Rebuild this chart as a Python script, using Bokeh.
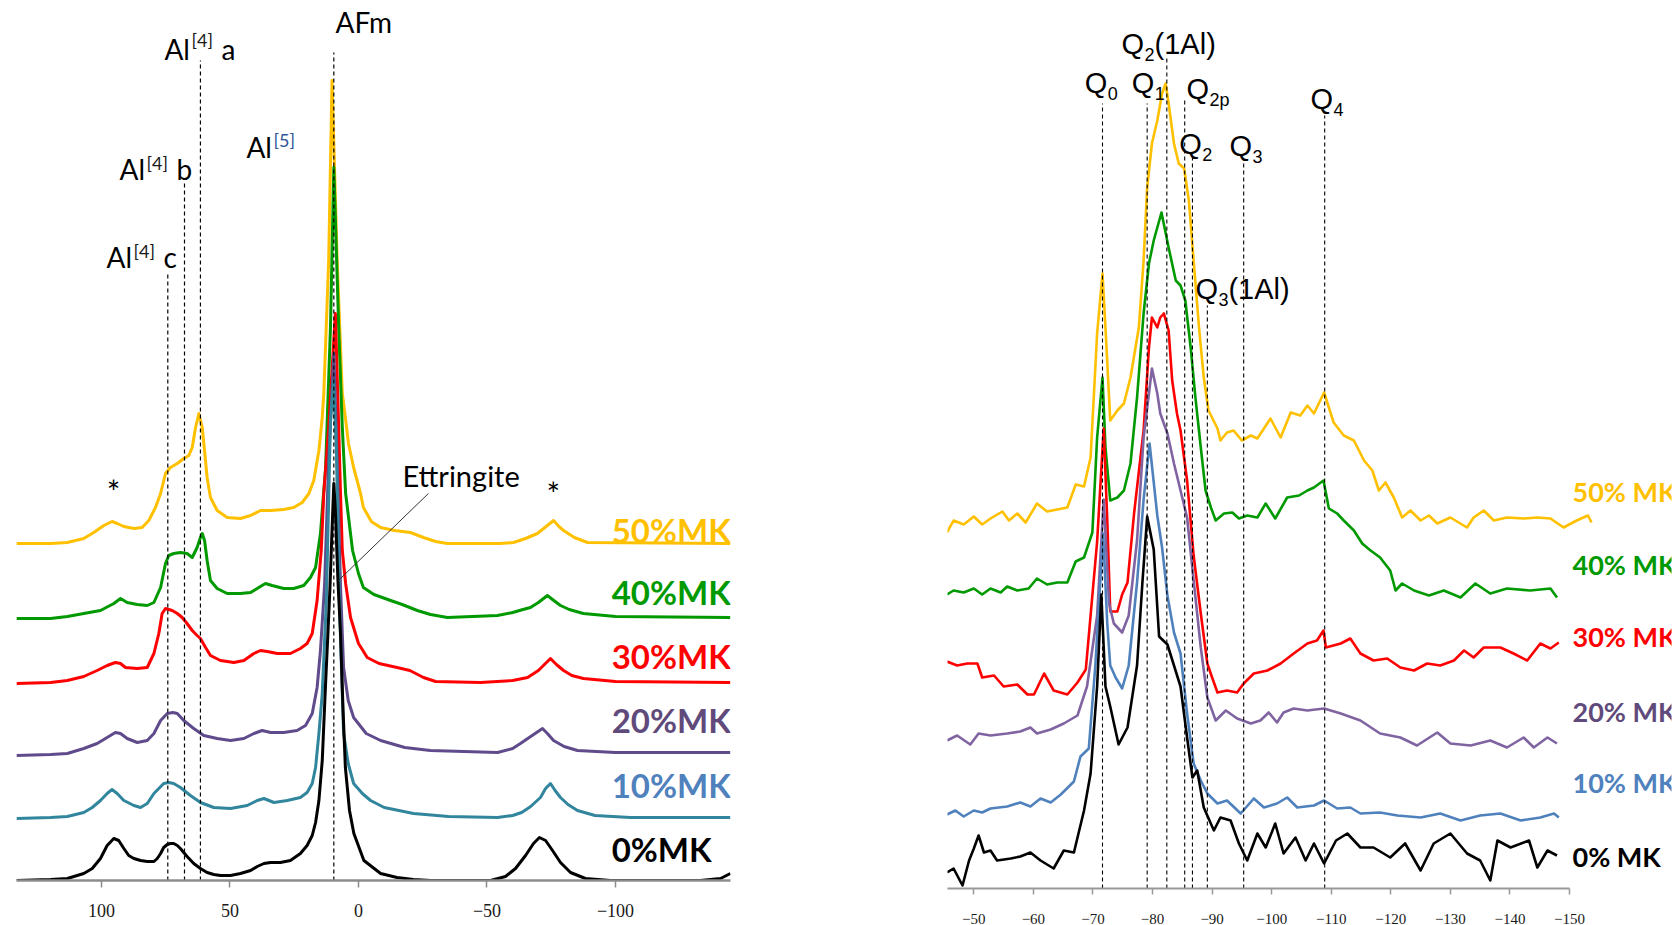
from bokeh.plotting import figure
from bokeh.models import Range1d, FixedTicker, Label
from bokeh.layouts import row
from bokeh.embed import file_html
from bokeh.resources import INLINE

# ---------------- Left panel: 27Al NMR (ppm, relative intensity above each baseline) -------------
al_samples = ["0%MK", "10%MK", "20%MK", "30%MK", "40%MK", "50%MK"]
al_offsets = [0, 62, 125, 197, 262, 337]
al_label_y = [18, 82, 147, 211, 275, 337]
al_colors = ["#000000", "#31859C", "#5F4B8B", "#FF0000", "#009900", "#FFC000"]
al_label_colors = ["#000000", "#4F81BD", "#604A7B", "#FF0000", "#009900", "#FFC000"]
al_ticks = [100, 50, 0, -50, -100]

al_0 = [(133.1, 0), (119.8, 1), (113.3, 2), (106.9, 7), (103.6, 12), (100.4, 22), (97.8, 35), (95.2, 42),
        (93.3, 40), (91.3, 32), (89.4, 25), (87.4, 22), (84.8, 20), (82.2, 19), (79.6, 19), (78.3, 22),
        (77.0, 27), (75.8, 33), (74.4, 36), (73.2, 37), (71.9, 37), (70.5, 35), (69.3, 32), (68.0, 28),
        (66.7, 24), (64.1, 17), (61.5, 12), (58.9, 8), (56.3, 6), (53.7, 5), (49.8, 5), (45.9, 7), (42.0, 10),
        (39.4, 14), (36.8, 17), (34.2, 18), (30.4, 18), (26.5, 20), (22.6, 27), (20.0, 35), (18.0, 45),
        (16.7, 58), (15.4, 80), (14.1, 120), (12.8, 197), (11.9, 247), (11.1, 293), (10.3, 350), (9.6, 397),
        (9.0, 370), (8.0, 300), (7.0, 247), (6.0, 170), (5.1, 113), (3.5, 70), (1.8, 47), (-2.1, 20),
        (-8.6, 7), (-15, 3), (-21.4, 1), (-28, 0), (-51.4, 0), (-57.2, 4), (-61.1, 12), (-65, 25), (-68.1, 37),
        (-70.4, 43), (-72.8, 40), (-75.5, 30), (-78.6, 18), (-82.5, 8), (-88.3, 2), (-98, 0), (-133, 0),
        (-140.9, 2), (-144.7, 7)]
al_10 = [(133.1, 0), (119.8, 1), (113.3, 2), (106.9, 6), (103.6, 11), (100.4, 18), (97.8, 25), (95.9, 29),
         (93.9, 25), (91.3, 18), (87.4, 13), (84.8, 11), (82.2, 15), (79.6, 25), (75.8, 35), (73.8, 36),
         (71.9, 35), (69.3, 31), (65.4, 23), (61.5, 16), (56.3, 11), (49.8, 10), (43.3, 13), (39.4, 18),
         (36.8, 20), (32.9, 16), (27.7, 18), (22.6, 21), (20.0, 26), (18.0, 35), (16.7, 51), (15.4, 85),
         (14.1, 125), (12.5, 218), (10.9, 398), (9.7, 438), (8.6, 368), (7.4, 218), (6.5, 140), (5.8, 85),
         (4.0, 55), (1.9, 35), (-1.5, 25), (-4.7, 18), (-10, 11), (-21.4, 5), (-35, 2), (-54.1, 1), (-60, 3),
         (-63.5, 6), (-67, 12), (-70.8, 21), (-72.8, 30), (-74.7, 35), (-76.5, 28), (-78.6, 21), (-81.5, 14),
         (-85.2, 8), (-92, 3), (-105.8, 1), (-144.7, 1)]
al_20 = [(133.1, 0), (119.8, 1), (113.3, 2), (106.9, 7), (101.7, 12), (97.8, 18), (94.6, 23), (92.6, 22),
         (90.0, 17), (86.1, 13), (82.2, 15), (79.6, 22), (77.0, 35), (74.4, 42), (72.2, 43), (70.5, 42),
         (68.0, 35), (64.1, 27), (60.2, 20), (55.0, 17), (49.8, 15), (44.6, 17), (40.7, 22), (37.5, 25),
         (34.2, 23), (29.1, 23), (23.9, 25), (20.6, 30), (18.0, 42), (16.1, 68), (14.8, 105), (13.2, 170),
         (11.6, 295), (9.6, 402), (8.3, 295), (7.0, 170), (5.8, 88), (4.0, 55), (1.9, 38), (-3, 22),
         (-8.6, 15), (-18, 8), (-28, 5), (-54.1, 3), (-60, 7), (-63, 12), (-67, 19), (-71.6, 27), (-73.5, 22),
         (-75.9, 15), (-80, 9), (-85.2, 5), (-100, 3), (-144.7, 3)]
al_30 = [(133.1, 0), (119.8, 1), (113.3, 3), (106.9, 7), (101.7, 13), (97.8, 18), (94.6, 21), (92.6, 20),
         (90.7, 16), (86.1, 15), (82.2, 16), (79.6, 30), (77.7, 50), (76.4, 70), (75.1, 75), (72.5, 73),
         (70.5, 70), (68.6, 66), (66.7, 60), (64.7, 53), (62.8, 48), (61.5, 45), (59.5, 36), (57.6, 28),
         (53.7, 23), (48.5, 21), (44.6, 23), (40.7, 30), (38.1, 33), (35.5, 32), (31.6, 30), (26.5, 30),
         (22.6, 35), (20.0, 40), (18.0, 50), (16.1, 83), (14.5, 133), (13.5, 190), (11.6, 256), (9.0, 370),
         (7.7, 256), (7.0, 190), (6.3, 133), (5.0, 100), (3.1, 66), (0, 40), (-3.4, 26), (-8, 20), (-15, 16),
         (-20, 13), (-25.3, 6), (-30, 2), (-47.5, 1), (-60, 3), (-65.8, 6), (-70, 13), (-74.7, 25), (-77, 19),
         (-79.8, 13), (-83, 8), (-87.5, 5), (-100, 2), (-144.7, 1)]
al_40 = [(133.1, 0), (119.8, 0), (113.3, 2), (106.9, 5), (100.4, 8), (95.2, 15), (92.6, 20), (90.0, 16),
         (86.1, 14), (82.2, 13), (79.6, 16), (77.0, 31), (75.1, 55), (73.8, 63), (71.9, 65), (69.3, 66),
         (66.7, 65), (64.7, 61), (62.8, 71), (61.5, 81), (60.8, 85), (59.9, 78), (58.9, 58), (57.6, 38),
         (55.0, 30), (51.1, 25), (45.9, 25), (42.0, 26), (38.8, 31), (36.2, 35), (33.6, 33), (29.1, 30),
         (25.2, 30), (21.3, 33), (18.7, 41), (16.7, 51), (14.8, 85), (12.8, 151), (10.9, 291), (9.6, 451),
         (7.7, 291), (6.3, 191), (5.0, 125), (2.3, 68), (0, 45), (-1.9, 31), (-6, 24), (-12.5, 18), (-17, 14),
         (-22.9, 8), (-28, 4), (-34.6, 1), (-54.1, 3), (-60, 6), (-64, 9), (-66.9, 11), (-70, 16), (-73.5, 23),
         (-76, 18), (-78.6, 13), (-82, 9), (-87.5, 5), (-100, 2), (-144.7, 1)]
al_50 = [(133.1, 0), (119.8, 0), (113.3, 1), (106.9, 5), (103.0, 11), (99.1, 18), (95.9, 22), (93.9, 20),
         (91.3, 17), (87.4, 15), (84.2, 16), (81.6, 23), (79.0, 36), (77.0, 50), (75.1, 70), (73.2, 76),
         (70.5, 80), (68.0, 85), (66.0, 88), (64.7, 96), (63.4, 116), (62.1, 130), (60.8, 116), (59.9, 93),
         (58.9, 66), (57.6, 46), (55.0, 33), (51.1, 26), (45.9, 25), (42.0, 28), (38.1, 33), (34.2, 33),
         (29.1, 34), (25.2, 36), (21.9, 41), (19.3, 50), (17.4, 63), (15.4, 93), (14.1, 126), (13.5, 150),
         (11.6, 283), (10.3, 463), (8.3, 283), (6.3, 150), (5.1, 126), (3.9, 100), (1.9, 76), (-0.8, 50),
         (-1.9, 36), (-5, 22), (-8.6, 16), (-14, 13), (-20.2, 11), (-25.3, 6), (-30, 2), (-34.6, 0), (-55, 0),
         (-60.3, 1), (-65, 5), (-69.6, 10), (-73, 17), (-75.9, 23), (-78, 17), (-79.8, 13), (-84, 6),
         (-89.1, 1), (-144.7, 0)]
al_traces = [al_0, al_10, al_20, al_30, al_40, al_50]

# reference lines (ppm) and their tops
al_marks_ppm = [74.2, 67.7, 61.5, 9.6]
al_marks_top = [608, 698, 820, 828]
# annotation: (ppm, baseline, main, superscript, sup-baseline, suffix, sup colour)
al_notes = [(75.5, 820, "Al", "[4]", 833, "a", "#1a1a1a"),
            (93.0, 700, "Al", "[4]", 710, "b", "#1a1a1a"),
            (98.05, 612, "Al", "[4]", 622, "c", "#1a1a1a"),
            (43.6, 722, "Al", "[5]", 733, "", "#2E5597")]
al_stars = [(95.3, 376), (-75.8, 374)]

# ---------------- Right panel: 29Si NMR -------------
si_samples = ["0% MK", "10% MK", "20% MK", "30% MK", "40% MK", "50% MK"]
si_offsets = [38, 73, 148, 223, 294, 360]
si_label_y = [21, 95, 166, 241, 313, 386]
si_colors = ["#000000", "#4F81BD", "#8064A2", "#FF0000", "#009900", "#FFC000"]
si_label_colors = ["#000000", "#4F81BD", "#604A7B", "#FF0000", "#009900", "#FFC000"]
si_ticks = [-50, -60, -70, -80, -90, -100, -110, -120, -130, -140, -150]

si_0 = [(-45.5, -22), (-46.6, -18), (-48.1, -35), (-49.2, -10), (-50, 2), (-50.8, 15), (-51.7, -2), (-52.8, 0),
        (-53.9, -10), (-56.2, -8), (-57.8, -6), (-59.5, -2), (-61.2, -10), (-63.4, -18), (-65.1, 0),
        (-66.8, -2), (-68.5, 40), (-69.6, 77), (-70.7, 164), (-71.4, 256), (-72.1, 164), (-72.9, 144),
        (-74.3, 106), (-75.8, 123), (-77.4, 185), (-78.3, 268), (-79.1, 334), (-80.2, 301), (-81.1, 214),
        (-82.5, 206), (-83.6, 185), (-84.7, 164), (-85.8, 113), (-86.7, 73), (-87.5, 80), (-88.6, 43),
        (-90.3, 20), (-91.4, 33), (-93.1, 30), (-94.5, 7), (-95.9, -10), (-97.6, 17), (-99, 3), (-100.6, 27),
        (-102, -3), (-104, 13), (-105.7, -10), (-107.1, 7), (-108.8, -13), (-110.8, 10), (-112.7, 17),
        (-114.9, 3), (-117.1, 3), (-119.9, -7), (-122.4, 7), (-125, -20), (-127.2, 7), (-130, 17),
        (-132.8, -3), (-135, -10), (-136.7, -30), (-137.9, 10), (-140.1, 3), (-143.2, 10), (-144.6, -17),
        (-146.3, 0), (-147.9, -5)]
si_10 = [(-45.5, 1), (-46.9, 5), (-48.3, -1), (-50, 5), (-51.4, 3), (-52.8, 7), (-55.6, 9), (-57.8, 13),
         (-59.5, 9), (-61.2, 17), (-62.9, 13), (-64.6, 21), (-66.8, 34), (-67.9, 59), (-69.3, 67), (-70.4, 150),
         (-71.7, 282), (-72.4, 192), (-72.9, 150), (-73.8, 138), (-74.9, 127), (-76, 150), (-77.4, 233),
         (-78.5, 316), (-79.5, 372), (-80.8, 300), (-81.6, 268), (-82.5, 220), (-83.6, 183), (-84.7, 162),
         (-85.8, 102), (-86.9, 52), (-88.1, 35), (-89.2, 22), (-90.9, 12), (-92.5, 15), (-94.8, 2), (-97, 17),
         (-98.7, 8), (-100.9, 12), (-102.6, 18), (-104.3, 8), (-107.1, 10), (-108.8, 15), (-111, 7),
         (-113.2, 8), (-114.9, 2), (-118.2, 3), (-121.1, 0), (-125, -2), (-128.3, 2), (-131.7, -5), (-135, 0),
         (-138.4, 2), (-141.8, -5), (-145.1, -2), (-147.4, 2), (-148.2, -2)]
si_20 = [(-45.5, 0), (-47.2, 5), (-49.4, -4), (-50.8, 7), (-52.8, 5), (-55.6, 7), (-57.8, 9), (-59.5, 13),
         (-60.6, 7), (-62.9, 11), (-65.1, 17), (-67.4, 25), (-69, 54), (-70.7, 125), (-71.8, 241), (-72.7, 137),
         (-73.5, 117), (-74.9, 108), (-76, 125), (-77.4, 200), (-78.5, 303), (-79.9, 372), (-80.8, 347),
         (-81.3, 327), (-82.5, 307), (-83.6, 277), (-84.7, 250), (-85.8, 223), (-86.9, 160), (-88.1, 93),
         (-89.2, 43), (-90.6, 20), (-92.3, 30), (-94.2, 22), (-96.5, 17), (-98.1, 20), (-99.5, 28),
         (-100.9, 18), (-102, 28), (-103.7, 32), (-106, 30), (-108.8, 32), (-111.6, 27), (-114.9, 20),
         (-118.2, 7), (-121.6, 3), (-124.4, -5), (-127.8, 8), (-130, -3), (-133.4, -5), (-136.7, 0),
         (-139.5, -7), (-142.3, 3), (-144, -7), (-146.3, 3), (-147.9, -3)]
si_30 = [(-45.5, 4), (-47.2, 0), (-48.9, 2), (-50.6, 2), (-51.4, -12), (-53.4, -10), (-55, -21), (-57.3, -19),
         (-59, -29), (-60.1, -29), (-61.8, -8), (-63.4, -25), (-65.7, -29), (-67.4, -17), (-68.8, -4),
         (-70.7, 124), (-71.8, 237), (-72.4, 145), (-72.9, 54), (-74.1, 54), (-74.9, 71), (-75.8, 83),
         (-76.9, 152), (-78.5, 235), (-79.4, 318), (-79.9, 348), (-80.8, 338), (-81.3, 348), (-81.9, 352),
         (-82.7, 335), (-83.3, 285), (-84.1, 252), (-84.7, 235), (-85.8, 185), (-86.9, 110), (-88.1, 52),
         (-89.2, 2), (-90, -12), (-90.9, -27), (-92.5, -25), (-94.2, -27), (-95.3, -18), (-97, -8),
         (-99.3, -5), (-101.5, 2), (-103.7, 12), (-106, 22), (-107.6, 25), (-108.7, 35), (-109.1, 18),
         (-111.6, 22), (-113.2, 27), (-114.9, 12), (-117.1, 5), (-119.4, 7), (-121.6, -2), (-123.9, -5),
         (-126.1, 2), (-128.3, 0), (-130.6, 5), (-132.3, 15), (-133.9, 8), (-135.6, 18), (-138.4, 18),
         (-140.6, 12), (-142.9, 5), (-145.1, 22), (-146.8, 17), (-148.2, 23)]
si_40 = [(-45.5, 0), (-46.6, 4), (-48.3, 2), (-50, 6), (-51.4, 0), (-52.8, 6), (-54.5, 2), (-55.6, 8),
         (-57.3, 4), (-59.2, 6), (-60.6, 16), (-62.3, 10), (-64, 12), (-65.7, 12), (-67.1, 33), (-68.5, 37),
         (-69.9, 62), (-70.7, 157), (-71.6, 217), (-72.1, 147), (-72.9, 94), (-74.1, 97), (-75.2, 104),
         (-76.3, 131), (-77.4, 197), (-78.5, 281), (-79.4, 331), (-80.2, 354), (-81.5, 382), (-82.7, 347),
         (-83.9, 314), (-84.7, 309), (-85.5, 294), (-86.4, 247), (-87.2, 197), (-88.1, 147), (-88.9, 104),
         (-89.8, 87), (-90.6, 74), (-92, 81), (-93.4, 82), (-94.5, 76), (-95.9, 79), (-97.6, 77), (-99, 91),
         (-100.6, 76), (-102.6, 97), (-104.6, 99), (-106, 104), (-107.1, 107), (-108.7, 114), (-109.6, 86),
         (-111, 81), (-112.1, 74), (-113.8, 64), (-115.2, 51), (-116.6, 44), (-118.2, 37), (-119.9, 24),
         (-120.8, 4), (-121.9, 11), (-123.9, 4), (-126.4, -1), (-128.9, 4), (-131.7, -3), (-134.2, 11),
         (-136.7, 1), (-139.5, 6), (-143.4, 4), (-146.8, 6), (-147.9, -3)]
si_50 = [(-45.5, -4), (-46.6, 8), (-48.3, 4), (-50, 12), (-51.4, 4), (-52.8, 10), (-54.8, 17), (-55.9, 8),
         (-57.3, 15), (-58.7, 6), (-60.6, 25), (-62.3, 17), (-64, 19), (-65.7, 21), (-67.1, 44), (-68.5, 42),
         (-69.6, 71), (-70.7, 195), (-71.6, 255), (-72.1, 201), (-72.9, 108), (-74.1, 118), (-75.2, 125),
         (-76.3, 151), (-77.7, 201), (-78.5, 268), (-79.1, 341), (-79.9, 385), (-80.8, 408), (-81.6, 435),
         (-82.2, 445), (-82.7, 425), (-83.6, 385), (-84.4, 365), (-85.3, 360), (-86.1, 328), (-86.9, 268),
         (-87.8, 201), (-88.6, 151), (-89.4, 118), (-90.9, 100), (-91.4, 88), (-92.5, 96), (-93.6, 98),
         (-95, 88), (-96.5, 93), (-97.6, 90), (-99.8, 110), (-101.5, 91), (-103.2, 116), (-104.8, 113),
         (-106, 123), (-107.1, 115), (-108.8, 136), (-110.4, 106), (-112.1, 93), (-113.8, 88), (-115.5, 68),
         (-116.9, 58), (-118, 38), (-119.1, 46), (-120.5, 31), (-121.9, 11), (-123.3, 18), (-125, 8),
         (-126.4, 13), (-127.8, 5), (-130, 11), (-132.8, 1), (-133.9, 11), (-135.6, 18), (-137.3, 8),
         (-139.5, 11), (-142.3, 10), (-144.6, 11), (-146.8, 10), (-149, 1), (-151.2, 8), (-153.1, 13),
         (-153.7, 6)]
si_traces = [si_0, si_10, si_20, si_30, si_40, si_50]

si_marks_ppm = [-71.6, -79.1, -82.4, -85.4, -86.7, -89.2, -95.3, -108.9]
si_marks_top = [785, 785, 831, 790, 731, 583, 728, 773]
# (ppm, baseline, subscript, suffix)
si_notes = [(-74.8, 832, "2", "(1Al)"), (-68.6, 793, "0", ""), (-76.5, 793, "1", ""),
            (-85.7, 787, "2p", ""), (-106.5, 777, "4", ""), (-84.5, 732, "2", ""),
            (-92.9, 730, "3", ""), (-87.2, 587, "3", "(1Al)")]

BASELINE_SHIFT = 0.42  # compensates the label box anchoring (fraction of the font size)


def add_label(p, x, y, text, size, color="#000000", font="Lato", style="normal", align="left", xo=0):
    p.add_layout(Label(x=x, y=y + BASELINE_SHIFT * size, text=text, text_font=font,
                       text_font_size=f"{size}px", text_color=color, text_font_style=style,
                       text_align=align, text_baseline="alphabetic", x_offset=xo))


def style_axis(p, ticks, font_size, standoff, tick_out, lw, color):
    p.xgrid.visible = False
    p.ygrid.visible = False
    p.outline_line_color = None
    ax = p.xaxis[0]
    ax.axis_label = None
    ax.ticker = FixedTicker(ticks=ticks, minor_ticks=[])
    ax.axis_line_color = color
    ax.axis_line_width = lw
    ax.major_tick_line_color = color
    ax.major_tick_line_width = 1.5
    ax.major_tick_in = 0
    ax.major_tick_out = tick_out
    ax.minor_tick_in = 0
    ax.minor_tick_out = 0
    ax.major_label_text_font = "Liberation Sans Narrow"
    ax.major_label_text_font_size = f"{font_size}px"
    ax.major_label_text_color = "#1a1a1a"
    ax.major_label_standoff = standoff


# ---------- left figure ----------
p1 = figure(frame_width=714, frame_height=870, x_range=Range1d(133.07, -144.75), y_range=Range1d(0, 870),
            output_backend="svg", toolbar_location=None, y_axis_location=None,
            min_border_left=16, min_border_right=18, min_border_top=10, min_border_bottom=45)
style_axis(p1, al_ticks, 18, 16, 7, 2.5, "#8c8c8c")

for i in reversed(range(len(al_traces))):
    xs = [pt[0] for pt in al_traces[i]]
    ys = [pt[1] + al_offsets[i] for pt in al_traces[i]]
    p1.line(xs, ys, line_color=al_colors[i], line_width=3, line_join="round")

p1.segment(x0=al_marks_ppm, y0=[0] * len(al_marks_ppm), x1=al_marks_ppm, y1=al_marks_top,
           line_color="#000000", line_width=1.2, line_dash="4 3")
# Ettringite leader
p1.segment(x0=[-27.2], y0=[387], x1=[7.8], y1=[300], line_color="#333333", line_width=1)

for i, name in enumerate(al_samples):
    add_label(p1, -98.5, al_label_y[i], name, 33, al_label_colors[i], style="bold")

add_label(p1, 8.95, 847, "AFm", 28)
add_label(p1, -17.1, 393, "Ettringite", 29)
for (x, yb, main, sup, ysup, suf, sc) in al_notes:
    add_label(p1, x, yb, main, 28)
    add_label(p1, x, ysup, sup, 18, sc, xo=27)
    if suf:
        add_label(p1, x, yb, suf, 28, xo=57)
for (x, y) in al_stars:
    add_label(p1, x, y, "*", 32, align="center")

# ---------- right figure ----------
p2 = figure(frame_width=724, frame_height=878, x_range=Range1d(-45.58, -167.12), y_range=Range1d(0, 878),
            output_backend="svg", toolbar_location=None, y_axis_location=None,
            min_border_left=199, min_border_right=8, min_border_top=10, min_border_bottom=37)
style_axis(p2, si_ticks, 15, 19, 6, 2, "#999999")
p2.xaxis[0].bounds = (-45.58, -150)

for i in reversed(range(len(si_traces))):
    xs = [pt[0] for pt in si_traces[i]]
    ys = [pt[1] + si_offsets[i] for pt in si_traces[i]]
    p2.line(xs, ys, line_color=si_colors[i], line_width=2.6, line_join="round")

p2.segment(x0=si_marks_ppm, y0=[0] * len(si_marks_ppm), x1=si_marks_ppm, y1=si_marks_top,
           line_color="#000000", line_width=1.1, line_dash="4 3")

for i, name in enumerate(si_samples):
    add_label(p2, -150.5, si_label_y[i], name, 27, si_label_colors[i], style="bold")

for (x, yb, sub, suf) in si_notes:
    add_label(p2, x, yb, "Q", 29, font="Liberation Sans")
    add_label(p2, x, yb - 6, sub, 18, font="Liberation Sans", xo=23)
    if suf:
        add_label(p2, x, yb, suf, 29, font="Liberation Sans", xo=33)

layout = row(p1, p2)
open("out.html", "w").write(file_html(layout, INLINE))
